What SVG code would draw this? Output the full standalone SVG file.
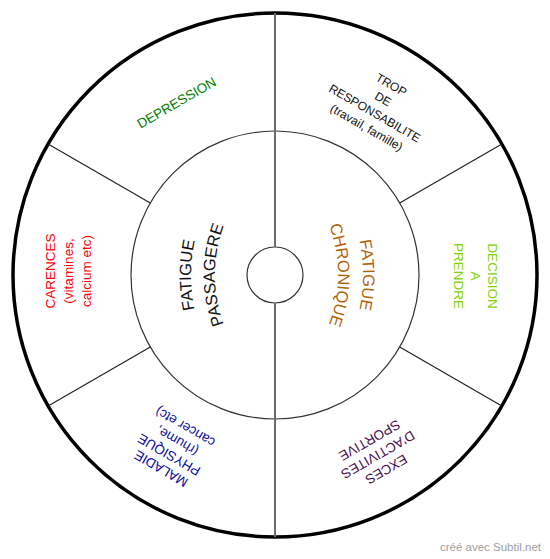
<svg xmlns="http://www.w3.org/2000/svg" xmlns:xlink="http://www.w3.org/1999/xlink" width="550" height="559" viewBox="0 0 550 559">
  <style>
    text { font-family: "Liberation Sans", Arial, sans-serif; }
    .outer { font-size: 13.5px; text-anchor: middle; }
    .small { font-size: 12px; text-anchor: middle; }
    .inner { font-size: 16.5px; }
    .div { stroke: #222; stroke-width: 1.2; fill: none; }
    .axis { stroke: #6b6b6b; stroke-width: 2; fill: none; }
    .ring { stroke: #333; stroke-width: 1.2; fill: none; }
  </style>
  <defs>
    <path id="pL1" d="M220.7,369.1 A164,164 0 0 1 220.7,180.9"/>
    <path id="pL2" d="M240.3,355.3 A140,140 0 0 1 240.3,194.7"/>
    <path id="pR1" d="M333.2,180.4 A165,165 0 0 1 333.2,369.6"/>
    <path id="pR2" d="M312.7,194.7 A140,140 0 0 1 312.7,355.3"/>
  </defs>
  <rect width="550" height="559" fill="#fff"/>

  <g id="wheel">
    <circle cx="275" cy="275" r="262" fill="#fff" stroke="#000" stroke-width="3.5"/>
    <circle class="ring" cx="275" cy="275" r="144"/>
    <circle class="ring" cx="275" cy="275" r="28"/>
  </g>

  <g id="connectors">
    <line class="axis" x1="275" y1="13" x2="275" y2="247"/>
    <line class="axis" x1="275" y1="303" x2="275" y2="537"/>
    <line class="div" x1="150.3" y1="203" x2="48.1" y2="144"/>
    <line class="div" x1="399.7" y1="203" x2="501.9" y2="144"/>
    <line class="div" x1="150.3" y1="347" x2="48.1" y2="406"/>
    <line class="div" x1="399.7" y1="347" x2="501.9" y2="406"/>
  </g>

  <g id="passagere" fill="#111">
    <text class="inner"><textPath xlink:href="#pL1" href="#pL1" startOffset="50%" text-anchor="middle">FATIGUE</textPath></text>
    <text class="inner"><textPath xlink:href="#pL2" href="#pL2" startOffset="50%" text-anchor="middle">PASSAGERE</textPath></text>
  </g>

  <g id="chronique" fill="#b3640a">
    <text class="inner"><textPath xlink:href="#pR1" href="#pR1" startOffset="50%" text-anchor="middle">FATIGUE</textPath></text>
    <text class="inner"><textPath xlink:href="#pR2" href="#pR2" startOffset="50%" text-anchor="middle">CHRONIQUE</textPath></text>
  </g>

  <g id="depression" transform="translate(176.5,102.5) rotate(-30)">
    <text class="outer" fill="#008000" y="4.8">DEPRESSION</text>
  </g>

  <g id="responsabilite" transform="translate(379,106) rotate(30)" fill="#111">
    <text class="small" y="-20.4">TROP</text>
    <text class="small" y="-3.9">DE</text>
    <text class="small" y="12.5">RESPONSABILITE</text>
    <text class="small" y="29">(travail, famille)</text>
  </g>

  <g id="decision" transform="translate(476,276) rotate(90)" fill="#7ad400">
    <text class="outer" y="-12">DECISION</text>
    <text class="outer" y="4.8">A</text>
    <text class="outer" y="21.6">PRENDRE</text>
  </g>

  <g id="exces" transform="translate(378,455) rotate(150)" fill="#4a0e4e">
    <text class="outer" y="-12">EXCES</text>
    <text class="outer" y="4.8">D'ACTIVITES</text>
    <text class="outer" y="21.6">SPORTIVE</text>
  </g>

  <g id="maladie" transform="translate(173,448) rotate(210)" fill="#1010a0">
    <text class="outer" y="-19.2">MALADIE</text>
    <text class="outer" y="-3.2">PHYSIQUE</text>
    <text class="outer" y="12.8">(rhume,</text>
    <text class="outer" y="28.8">cancer etc)</text>
  </g>

  <g id="carences" transform="translate(68,271) rotate(-90)" fill="#ff0000">
    <text class="outer" y="-13">CARENCES</text>
    <text class="outer" y="4.8">(vitamines,</text>
    <text class="outer" y="22.6">calcium etc)</text>
  </g>

  <text x="541" y="551" font-size="11.5" fill="#a0a0a0" text-anchor="end">créé avec Subtil.net</text>
</svg>
